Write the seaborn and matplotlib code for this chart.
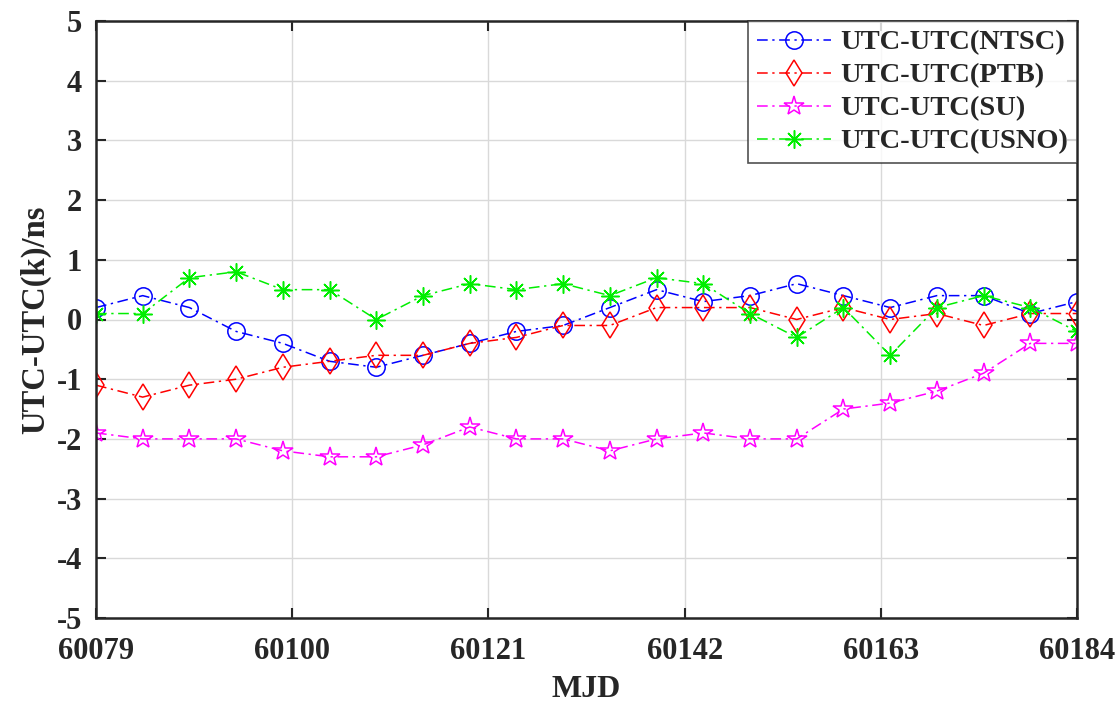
import numpy as np
import pandas as pd
import matplotlib
matplotlib.use("Agg")
import matplotlib.pyplot as plt
import seaborn as sns

mjd = [60079 + 5 * i for i in range(22)]
ntsc = [0.2, 0.4, 0.2, -0.2, -0.4, -0.7, -0.8, -0.6, -0.4, -0.2, -0.1, 0.2, 0.5, 0.3, 0.4, 0.6, 0.4, 0.2, 0.4, 0.4, 0.1, 0.3]
ptb = [-1.1, -1.3, -1.1, -1.0, -0.8, -0.7, -0.6, -0.6, -0.4, -0.3, -0.1, -0.1, 0.2, 0.2, 0.2, 0.0, 0.2, 0.0, 0.1, -0.1, 0.1, 0.1]
su = [-1.9, -2.0, -2.0, -2.0, -2.2, -2.3, -2.3, -2.1, -1.8, -2.0, -2.0, -2.2, -2.0, -1.9, -2.0, -2.0, -1.5, -1.4, -1.2, -0.9, -0.4, -0.4]
usno = [0.1, 0.1, 0.7, 0.8, 0.5, 0.5, 0.0, 0.4, 0.6, 0.5, 0.6, 0.4, 0.7, 0.6, 0.1, -0.3, 0.2, -0.6, 0.2, 0.4, 0.2, -0.2]
labels = ["UTC-UTC(NTSC)", "UTC-UTC(PTB)", "UTC-UTC(SU)", "UTC-UTC(USNO)"]
xticks = [60079, 60100, 60121, 60142, 60163, 60184]
yticks = [-5, -4, -3, -2, -1, 0, 1, 2, 3, 4, 5]

sns.set_style("white")
plt.rcParams['font.family'] = ['Liberation Serif', 'DejaVu Serif']
plt.rcParams['font.weight'] = 'bold'

fig = plt.figure(figsize=(11.19, 7.04), dpi=100)
ax = fig.add_axes([96/1119, 1 - 618/704, (1077 - 96)/1119, (618 - 21)/704])

series = [ntsc, ptb, su, usno]
colors = ["#0000ff", "#ff0000", "#ff00ff", "#00ee00"]
markers = ["o", "d", "*", (8, 2, 0)]
msizes = [12.5, 13.5, 15, 13]
dash = (7, 3, 1.5, 3)

for vals, lab, c, m, ms in zip(series, labels, colors, markers, msizes):
    df = pd.DataFrame({"MJD": mjd, "val": vals})
    sns.lineplot(data=df, x="MJD", y="val", ax=ax, color=c, marker=m,
                 markersize=ms, markerfacecolor="none", markeredgecolor=c,
                 markeredgewidth=1.1, linewidth=1.1, dashes=False,
                 label=lab)
for line in ax.get_lines():
    line.set_dashes(dash)

ax.set_xlim(60079, 60184)
ax.set_ylim(-5, 5)
ax.set_xticks(xticks)
ax.set_yticks(yticks)
ax.set_xticklabels([str(t) for t in xticks], fontsize=22, fontweight='bold')
ax.set_yticklabels([str(t) for t in yticks], fontsize=22, fontweight='bold')
ax.grid(True, color="#d9d9d9", linewidth=1.0)
ax.set_axisbelow(True)
ax.tick_params(direction='in', length=7, width=1.5, top=True, right=True,
               bottom=True, left=True, colors="#262626")
ax.tick_params(axis='x', pad=14)
ax.tick_params(axis='y', pad=10)
for sp in ax.spines.values():
    sp.set_visible(True)
    sp.set_color("#262626")
    sp.set_linewidth(1.8)
ax.set_xlabel("MJD", fontsize=23, fontweight='bold', labelpad=6)
ax.set_ylabel("UTC-UTC(k)/ns", fontsize=23.5, fontweight='bold', labelpad=4)

leg = ax.legend(loc="upper right", fontsize=20.5, frameon=True, fancybox=False,
                borderaxespad=0, handlelength=2.6, handletextpad=0.35,
                labelspacing=0.25, borderpad=0.3)
leg.get_frame().set_edgecolor("#262626")
leg.get_frame().set_linewidth(1.2)
for t in leg.get_texts():
    t.set_fontweight('bold')

fig.savefig("out.png", dpi=100)
